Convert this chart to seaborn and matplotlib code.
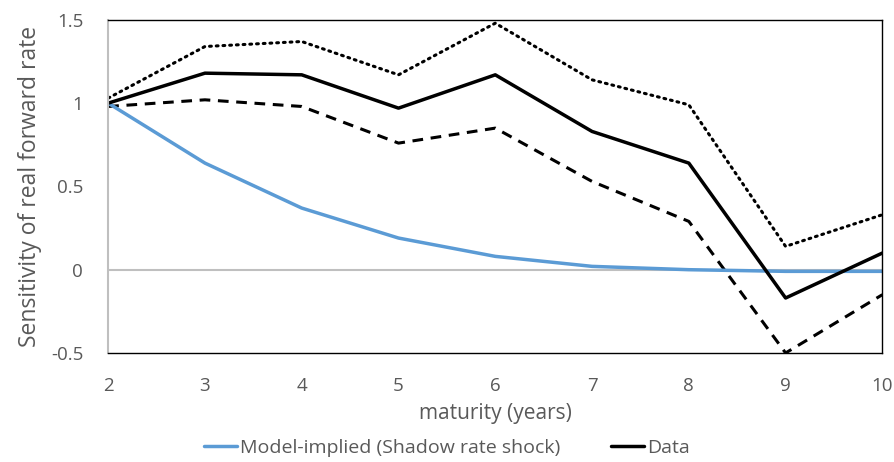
import matplotlib
matplotlib.use("Agg")
import matplotlib.pyplot as plt
import numpy as np
import pandas as pd
import seaborn as sns

# Values
maturity = [2, 3, 4, 5, 6, 7, 8, 9, 10]
model_implied = [1.00, 0.64, 0.37, 0.19, 0.08, 0.02, 0.00, -0.01, -0.01]
data_est = [1.00, 1.18, 1.17, 0.97, 1.17, 0.83, 0.64, -0.17, 0.10]
upper_band = [1.03, 1.34, 1.37, 1.17, 1.48, 1.14, 0.99, 0.14, 0.33]
lower_band = [0.98, 1.02, 0.98, 0.76, 0.85, 0.53, 0.29, -0.50, -0.15]

sns.set_style("white")
plt.rcParams['font.family'] = ['Open Sans', 'DejaVu Sans']

df = pd.DataFrame({"maturity": maturity, "model": model_implied,
                   "data": data_est, "upper": upper_band, "lower": lower_band})

fig, ax = plt.subplots(figsize=(8.94, 4.62), dpi=100)
grey = "#595959"

ax.axhline(0, color="#bfbfbf", lw=1.5, zorder=1)
sns.lineplot(data=df, x="maturity", y="upper", ax=ax, color="black", lw=2.2,
             linestyle=(0, (0.6, 1.6)), dash_capstyle="round", legend=False)
sns.lineplot(data=df, x="maturity", y="lower", ax=ax, color="black", lw=2.2,
             linestyle=(0, (3.5, 2.5)), legend=False)
sns.lineplot(data=df, x="maturity", y="model", ax=ax, color="#5b9bd5", lw=2.5,
             label="Model-implied (Shadow rate shock)")
sns.lineplot(data=df, x="maturity", y="data", ax=ax, color="black", lw=2.5,
             label="Data")

ax.set_xlim(2, 10)
ax.set_ylim(-0.5, 1.5)
ax.set_xticks(maturity)
ax.set_yticks([-0.5, 0, 0.5, 1, 1.5])
ax.set_yticklabels(["-0.5", "0", "0.5", "1", "1.5"])
ax.tick_params(axis="both", length=0, labelsize=13.5, labelcolor=grey)
ax.tick_params(axis="x", pad=17)
ax.tick_params(axis="y", pad=18)

for side in ["top", "right", "bottom"]:
    ax.spines[side].set_color("black")
    ax.spines[side].set_linewidth(1.0)
ax.spines["left"].set_color("#bfbfbf")
ax.spines["left"].set_linewidth(1.5)

ax.set_xlabel("maturity (years)", fontsize=15, color=grey, labelpad=6)
ax.set_ylabel("Sensitivity of real forward rate", fontsize=16.5, color=grey, labelpad=6)

leg = fig.legend(*ax.get_legend_handles_labels(), loc="center",
                 bbox_to_anchor=(0.5, 0.03), ncol=2, frameon=False, fontsize=14,
                 handlelength=1.7, handletextpad=0.15, columnspacing=2.6)
ax.get_legend().remove()
for t in leg.get_texts():
    t.set_color(grey)

fig.subplots_adjust(left=0.121, right=0.987, top=0.957, bottom=0.236)
fig.savefig("out.png", dpi=100)
